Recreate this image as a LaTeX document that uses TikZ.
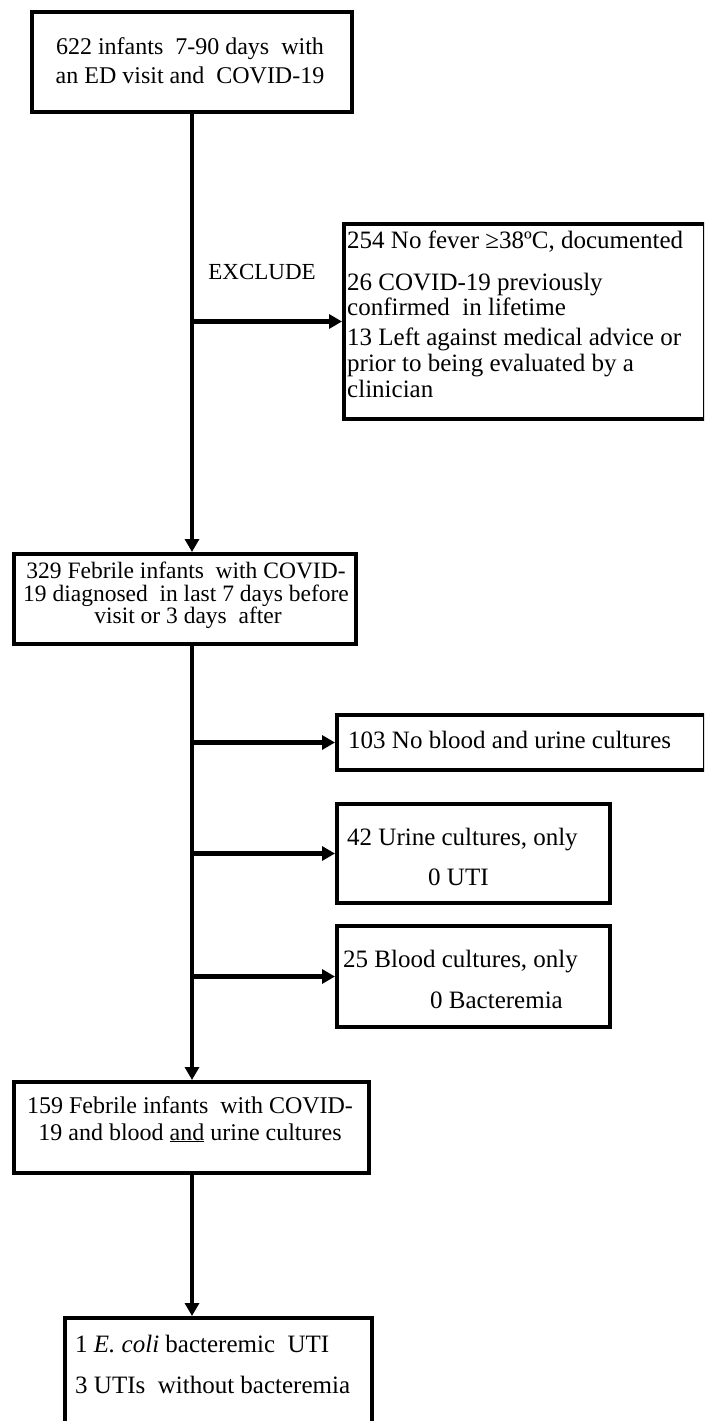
\documentclass[tikz,border=0pt]{standalone}
\usepackage{fontspec}
\setmainfont{Liberation Serif}
\usetikzlibrary{arrows.meta}
\begin{document}
\begin{tikzpicture}[x=1pt,y=-1pt,
  box/.style={draw, line width=4pt, inner sep=0pt, anchor=north west},
  conn/.style={line width=4.5pt},
  arr/.style={conn, -{Triangle[length=13pt,width=14pt]}},
  tm/.style={inner sep=0pt, anchor=base, font=\fontsize{24}{26}\selectfont},
  tl/.style={inner sep=0pt, anchor=base west, font=\fontsize{25}{26}\selectfont},
]
\useasboundingbox (0,0) rectangle (704,1421);
\fill[white] (0,0) rectangle (704,1421);
\begin{scope}
\clip (0,0) rectangle (704,1421);
% boxes
\node[box, minimum width=320pt, minimum height=100pt] (b1) at (30,10) {};
\node[box, minimum width=361pt, minimum height=195pt] (ex) at (342,222) {};
\node[box, minimum width=342pt, minimum height=90pt] (b2) at (12,552) {};
\node[box, minimum width=368pt, minimum height=55pt] (n103) at (335,713) {};
\node[box, minimum width=273pt, minimum height=99pt] (n42) at (335,802) {};
\node[box, minimum width=273pt, minimum height=101pt] (n25) at (335,924) {};
\node[box, minimum width=355pt, minimum height=91pt] (b3) at (12,1080) {};
\node[box, minimum width=307pt, minimum height=140pt] (fin) at (63,1316) {};
% texts
\node[tm] (t1a) at (190,55) {622 infants\ \ 7-90 days\ \ with};
\node[tm] (t1b) at (190,83) {an ED visit and\ \ COVID-19};
\node[tm, anchor=center, font=\fontsize{23}{25}\selectfont] (exl) at (262,272) {EXCLUDE};
\node[tl] (e1) at (347,248) {254 No fever ≥38ºC, documented};
\node[tl] (e2) at (347,290) {26 COVID-19 previously};
\node[tl] (e3) at (347,315) {confirmed\ \ in lifetime};
\node[tl] (e4) at (347,345) {13 Left against medical advice or};
\node[tl] (e5) at (347,371) {prior to being evaluated by a};
\node[tl] (e6) at (347,397) {clinician};
\node[tm, font=\fontsize{23.5}{25}\selectfont] (t2a) at (186,578) {329 Febrile infants\ \ with COVID-};
\node[tm, font=\fontsize{23.5}{25}\selectfont] (t2b) at (186,601) {19 diagnosed\ \ in last 7 days before};
\node[tm, font=\fontsize{23.5}{25}\selectfont] (t2c) at (188,623) {visit or 3 days\ \ after};
\node[tl] (s1) at (348,748) {103 No blood and urine cultures};
\node[tl] (s2a) at (347,845) {42 Urine cultures, only};
\node[tl] (s2b) at (428,885) {0 UTI};
\node[tl] (s3a) at (343,967) {25 Blood cultures, only};
\node[tl] (s3b) at (430,1008) {0 Bacteremia};
\node[tm] (t3a) at (190,1113) {159 Febrile infants\ \ with COVID-};
\node[tm] (t3b) at (190,1140) {19 and blood \underline{and} urine cultures};
\node[tl] (f1) at (75,1352) {1 \textit{E. coli} bacteremic\ \ UTI};
\node[tl] (f2) at (75,1393) {3 UTIs\ \ without bacteremia};
% connectors
\draw[arr] (b1.south) -- (b2.north -| b1.south);
\draw[arr] (b1.south |- ex.west) -- (ex.west);
\draw[arr] (b2.south -| b1.south) -- (b3.north -| b1.south);
\draw[arr] (b1.south |- n103.west) -- (n103.west);
\draw[arr] (b1.south |- n42.west) -- (n42.west);
\draw[arr] (b1.south |- n25.west) -- (n25.west);
\draw[arr] (b3.south -| b1.south) -- (fin.north -| b1.south);
\end{scope}
\end{tikzpicture}
\end{document}
